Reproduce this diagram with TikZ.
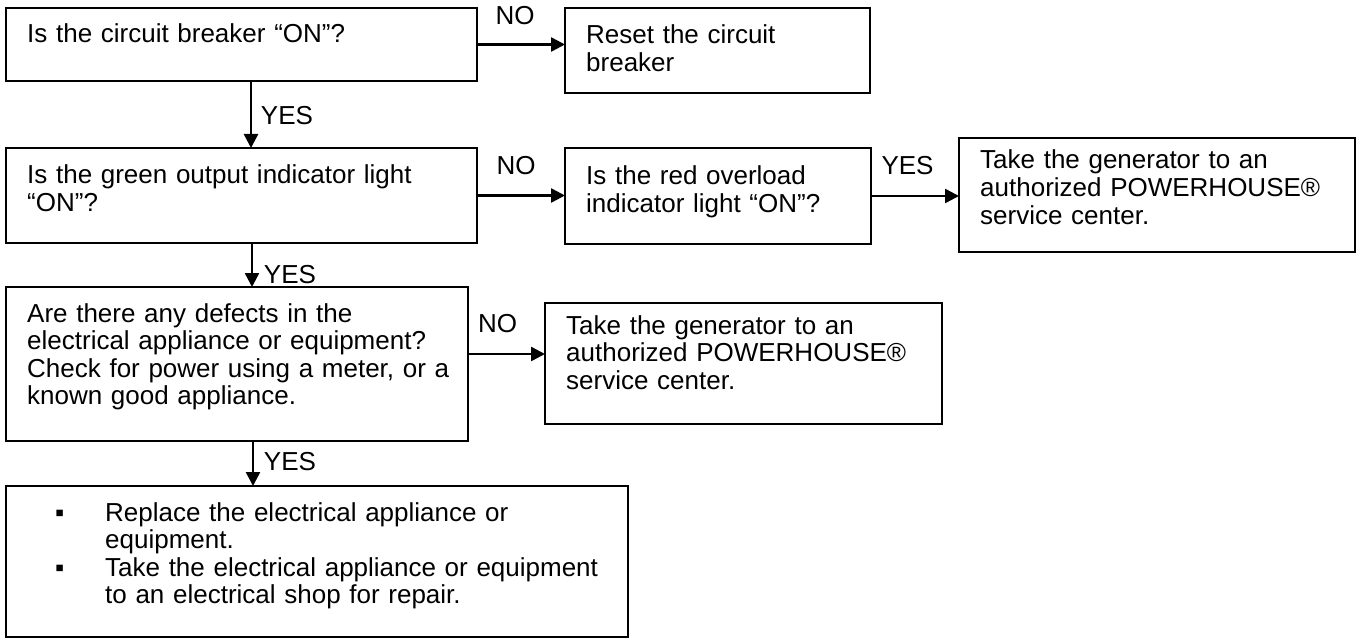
\documentclass[tikz,border=0pt]{standalone}
\usepackage{fontspec}
\setmainfont{Liberation Sans}
\usetikzlibrary{arrows.meta}
\begin{document}
\begin{tikzpicture}[x=1pt,y=-1pt,
  box/.style={draw=black, line width=2.5pt, inner sep=0pt, outer sep=0pt},
  txt/.style={anchor=base west, inner sep=0pt, align=left, text width=#1, font=\fontsize{26}{27.5}\selectfont},
  txt/.default=460pt,
  lbl/.style={anchor=base, inner sep=0pt, font=\fontsize{26}{27.5}\selectfont},
  arr/.style={line width=2.5pt, -{Triangle[length=14pt,width=14pt]}}]
\useasboundingbox (0,0) rectangle (1359,639);
% boxes
\node[box, minimum width=471pt, minimum height=73pt]  (q1)    at (241.5,44.5) {};
\node[box, minimum width=305pt, minimum height=85pt]  (reset) at (717.5,50.5) {};
\node[box, minimum width=471pt, minimum height=95pt]  (q2)    at (241.5,195.5) {};
\node[box, minimum width=306pt, minimum height=96pt]  (red)   at (718,196) {};
\node[box, minimum width=396pt, minimum height=114pt] (take1) at (1157,195) {};
\node[box, minimum width=462pt, minimum height=154pt] (q3)    at (237,364) {};
\node[box, minimum width=397pt, minimum height=121pt] (take2) at (743.5,363.5) {};
\node[box, minimum width=622pt, minimum height=151pt] (q4)    at (317,561.5) {};
% texts
\node[txt] (q1t) at (27,43) {Is the circuit breaker “ON”?};
\node[txt=280pt] (resett) at (586,44) {Reset the circuit\\breaker};
\node[txt] (q2t) at (27,184) {Is the green output indicator light\\“ON”?};
\node[txt=280pt] (redt) at (586,185) {Is the red overload\\indicator light “ON”?};
\node[txt=370pt] (take1t) at (980,169) {Take the generator to an\\authorized POWERHOUSE®\\service center.};
\node[txt] (q3t) at (27,322) {Are there any defects in the\\electrical appliance or equipment?\\Check for power using a meter, or a\\known good appliance.};
\node[txt=370pt] (take2t) at (566,334) {Take the generator to an\\authorized POWERHOUSE®\\service center.};
\node[txt=560pt] (q4t) at (55,521) {\makebox[50pt][l]{▪}Replace the electrical appliance or\\\hspace*{50pt}equipment.\\\makebox[50pt][l]{▪}Take the electrical appliance or equipment\\\hspace*{50pt}to an electrical shop for repair.};
% connectors
\draw[arr] (q1.east) -- (q1.east -| reset.west);
\draw[arr] ([xshift=9.5pt]q1.south) -- ([xshift=9.5pt]q1.south |- q2.north);
\draw[arr] (q2.east) -- (q2.east -| red.west);
\draw[arr] (red.east) -- (red.east -| take1.west);
\draw[arr] ([xshift=10.5pt]q2.south) -- ([xshift=10.5pt]q2.south |- q3.north);
\draw[arr] ([yshift=10pt]q3.east) -- ([yshift=10pt]q3.east -| take2.west);
\draw[arr] ([xshift=16pt]q3.south) -- ([xshift=16pt]q3.south |- q4.north);
% labels
\node[lbl] (no1)  at (515,25)  {NO};
\node[lbl] (yes1) at (287,125) {YES};
\node[lbl] (no2)  at (516,175) {NO};
\node[lbl] (yes2) at (907.5,175) {YES};
\node[lbl] (yes3) at (290,283) {YES};
\node[lbl] (no3)  at (497.5,332) {NO};
\node[lbl] (yes4) at (290,470) {YES};
\end{tikzpicture}
\end{document}
